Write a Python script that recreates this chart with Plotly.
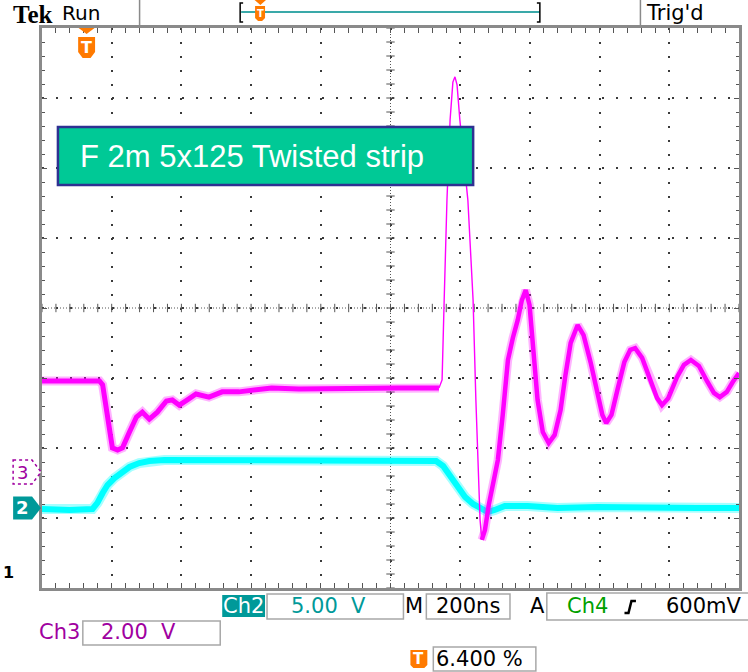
import plotly.graph_objects as go

# ---------------- data ----------------
TIME_PER_DIV = 200.0      # ns / div  (M 200ns)
TRIG_FRAC = 0.064         # trigger position 6.400 %
CH2_SCALE = 5.0           # V / div
CH3_SCALE = 2.0           # V / div
CH2_POS = -2.857          # ground marker position, div
CH3_POS = -2.343

# Ch2 (cyan), time in ns, volts
CH2_T = [-128, -49, 17, 31, 46, 60, 80, 100, 123, 151, 180, 223, 323, 609, 894,
         1003, 1023, 1046, 1066, 1086, 1109, 1131, 1151, 1171, 1200, 1266, 1351,
         1466, 1609, 1751, 1872]
CH2_V = [-0.07, -0.14, -0.07, 0.36, 1.07, 1.64, 2.14, 2.57, 2.93, 3.21, 3.36,
         3.43, 3.43, 3.43, 3.43, 3.36, 3.00, 2.14, 1.50, 0.79, 0.29, -0.07, -0.29,
         -0.14, 0.14, 0.14, 0.0, 0.07, 0.0, 0.0, 0.0]

# Ch3 (magenta), time in ns, volts
CH3_T = [-128, 37, 46, 60, 74, 89, 103, 123, 143, 160, 180, 203, 229, 246, 266,
         289, 314, 351, 389, 437, 480, 531, 609, 751, 894, 1011,
         1020, 1026, 1034, 1043, 1051, 1057, 1063, 1071, 1083, 1094, 1103, 1109,
         1117, 1123, 1129, 1134,
         1143, 1154, 1169, 1180, 1194, 1209, 1223, 1237, 1249, 1260, 1271, 1283,
         1294, 1309, 1326, 1343, 1360, 1374, 1389, 1409, 1426, 1446, 1466, 1480,
         1491, 1506, 1523, 1543, 1560, 1574, 1594, 1617, 1637, 1651, 1669, 1694,
         1714, 1734, 1757, 1780, 1800, 1817, 1837, 1854, 1872]
CH3_V = [2.60, 2.60, 2.49, 1.49, 0.69, 0.63, 0.69, 1.14, 1.57, 1.71, 1.51, 1.71,
         2.03, 2.06, 1.91, 2.06, 2.23, 2.14, 2.29, 2.29, 2.34, 2.40, 2.37, 2.40,
         2.40, 2.40,
         2.63, 4.91, 7.77, 10.06, 11.14, 11.29, 11.06, 10.06, 8.91, 7.77, 6.06,
         4.91, 2.06, 0.34, -1.37, -1.94,
         -1.66, -0.94, -0.23, 0.34, 1.63, 3.20, 3.83, 4.34, 4.91, 5.20, 4.77, 3.49,
         2.06, 1.14, 0.83, 1.06, 1.77, 2.77, 3.69, 4.20, 3.91, 3.14, 2.20, 1.63,
         1.40, 1.63, 2.34, 3.14, 3.49, 3.54, 3.26, 2.69, 2.11, 1.91, 2.11, 2.71,
         3.06, 3.20, 3.03, 2.60, 2.26, 2.14, 2.29, 2.57, 2.83]
CH3_FAST = (25, 41)   # index span of the fast (thin, faint) part of the trace

LABEL = "F 2m 5x125 Twisted strip"
CH2_TXT, CH3_TXT, TB_TXT = "5.00 V", "2.00 V", "200ns"
TRIG_SRC, TRIG_LVL, TRIG_POS_TXT = "Ch4", "600mV", "6.400 %"

# ---------------- geometry helpers ----------------
W, H = 748, 672
L, R, T, B = 42, 742, 28, 588
NDIV_X, NDIV_Y = 10, 8

def fx(x):
    return (x - L) / (R - L)

def fy(y):
    return (B - y) / (B - T)

x0 = -TRIG_FRAC * NDIV_X * TIME_PER_DIV
x1 = x0 + NDIV_X * TIME_PER_DIV
y2r = [(-NDIV_Y / 2 - CH2_POS) * CH2_SCALE, (NDIV_Y / 2 - CH2_POS) * CH2_SCALE]
y3r = [(-NDIV_Y / 2 - CH3_POS) * CH3_SCALE, (NDIV_Y / 2 - CH3_POS) * CH3_SCALE]

MAG = "#FF00FF"
CYAN = "#00FFFF"
TEAL = "#009999"
PURP = "#A000A0"
ORANGE = "#FF7A00"
GRIDC = "#3a3a3a"
FRAME = "#8a8a8a"
SCOPE_FONT = "DejaVu Sans"

fig = go.Figure()

# centre graticule tick marks
xs = [x0 + i * TIME_PER_DIV / 5 for i in range(NDIV_X * 5 + 1)]
yc = (y2r[0] + y2r[1]) / 2
fig.add_trace(go.Scatter(x=xs, y=[yc] * len(xs), mode="markers", yaxis="y",
                         marker=dict(symbol="line-ns", size=6,
                                     line=dict(width=1, color="#555")),
                         hoverinfo="skip"))
ys = [y2r[0] + i * CH2_SCALE / 5 for i in range(NDIV_Y * 5 + 1)]
xc = (x0 + x1) / 2
fig.add_trace(go.Scatter(x=[xc] * len(ys), y=ys, mode="markers", yaxis="y",
                         marker=dict(symbol="line-ew", size=6,
                                     line=dict(width=1, color="#555")),
                         hoverinfo="skip"))

# Ch2 trace (fuzz halo + core)
fig.add_trace(go.Scatter(x=CH2_T, y=CH2_V, mode="lines", yaxis="y",
                         line=dict(color="rgba(0,255,255,0.35)", width=10),
                         hoverinfo="skip"))
fig.add_trace(go.Scatter(x=CH2_T, y=CH2_V, mode="lines", yaxis="y",
                         line=dict(color=CYAN, width=6), hoverinfo="skip"))

# Ch3 trace split into slow (thick, noisy) and fast (thin) segments
a, b = CH3_FAST
segs = [(0, a + 1, 5), (a, b + 1, 1.4), (b, len(CH3_T), 4.5)]
for s, e, w in segs:
    if w > 2:
        fig.add_trace(go.Scatter(x=CH3_T[s:e], y=CH3_V[s:e], mode="lines",
                                 yaxis="y2",
                                 line=dict(color="rgba(255,0,255,0.3)", width=w + 4),
                                 hoverinfo="skip"))
    fig.add_trace(go.Scatter(x=CH3_T[s:e], y=CH3_V[s:e], mode="lines",
                             yaxis="y2",
                             line=dict(color=MAG, width=w), hoverinfo="skip"))

shapes = []
ann = []


def rect(xa, ya, xb, yb, **kw):
    d = dict(type="rect", xref="paper", yref="paper",
             x0=fx(xa), x1=fx(xb), y0=fy(yb), y1=fy(ya))
    d.update(kw)
    shapes.append(d)


def path(pts, close=True, **kw):
    s = "M " + " L ".join(f"{fx(px):.5f},{fy(py):.5f}" for px, py in pts)
    if close:
        s += " Z"
    d = dict(type="path", xref="paper", yref="paper", path=s)
    d.update(kw)
    shapes.append(d)


def line(xa, ya, xb, yb, **kw):
    d = dict(type="line", xref="paper", yref="paper",
             x0=fx(xa), x1=fx(xb), y0=fy(ya), y1=fy(yb))
    d.update(kw)
    shapes.append(d)


def text(x, y, s, size=20, color="black", family=SCOPE_FONT, xanchor="left", **kw):
    d = dict(x=fx(x), y=fy(y), xref="paper", yref="paper", text=s,
             showarrow=False, xanchor=xanchor, yanchor="middle",
             font=dict(size=size, color=color, family=family))
    d.update(kw)
    ann.append(d)


# centre cross lines
cy = (T + B) / 2
cx = (L + R) / 2
line(L, cy, R, cy, line=dict(color="#555", width=1, dash="1px,2px"), layer="below")
line(cx, T, cx, B, line=dict(color="#555", width=1, dash="1px,2px"), layer="below")

# ---- top status bar ----
text(12, 14, "<b>Tek</b>", size=25, family="Liberation Serif", borderpad=0)
text(60, 13, "Run", size=20)
line(140, 0, 140, 25, line=dict(color=FRAME, width=1.5))
line(643, 0, 643, 25, line=dict(color=FRAME, width=1.5))
text(647, 13, "Trig'd", size=21)
line(242, 12, 542, 12, line=dict(color="#3aa9a9", width=2))
path([(244, 3), (241, 3), (241, 22), (244, 22)], close=False,
     line=dict(color="black", width=1.5))
path([(539, 3), (542, 3), (542, 22), (539, 22)], close=False,
     line=dict(color="black", width=1.5))
# small trigger-position marker in record bar
path([(255.5, 0), (267, 0), (261.3, 5)], fillcolor=ORANGE, line=dict(width=0))
path([(256, 6), (266, 6), (266, 18), (263, 21), (259, 21), (256, 18)],
     fillcolor=ORANGE, line=dict(width=0))
text(261, 13.5, "<b>T</b>", size=10, color="white", xanchor="center")

# trigger marker at top of graticule
tx = L + (0 - x0) / (x1 - x0) * (R - L)
path([(tx - 8, 28), (tx + 8, 28), (tx, 34)], fillcolor=ORANGE, line=dict(width=0))
path([(tx - 8.5, 37), (tx + 8.5, 37), (tx + 8.5, 52), (tx + 4, 58),
      (tx - 4, 58), (tx - 8.5, 52)], fillcolor=ORANGE, line=dict(width=0))
text(tx, 47.5, "<b>T</b>", size=16, color="white", xanchor="center")

# channel ground markers
g3 = (T + B) / 2 - CH3_POS * (B - T) / NDIV_Y
g2 = (T + B) / 2 - CH2_POS * (B - T) / NDIV_Y
path([(13, g3 - 12), (32, g3 - 12), (41, g3), (32, g3 + 12), (13, g3 + 12)],
     fillcolor="white", line=dict(color=PURP, width=1.5, dash="dot"))
text(22, g3, "3", size=18, color=PURP, xanchor="center")
path([(13, g2 - 11.5), (32, g2 - 11.5), (41, g2), (32, g2 + 11.5), (13, g2 + 11.5)],
     fillcolor=TEAL, line=dict(width=0))
text(22, g2, "<b>2</b>", size=18, color="white", xanchor="center")
text(1, 572, "<b>1</b>", size=16)

# label box
rect(58, 127, 475, 185, fillcolor="#00C996",
     line=dict(color="#2E3192", width=2.5), layer="above")
text(78, 157, LABEL, size=31, color="white", family="Liberation Sans")

# ---- bottom readouts ----
BOXL = dict(color="#a8a8a8", width=1.5)
rect(223, 595, 266, 617, fillcolor=TEAL, line=dict(width=0))
text(244.5, 606, "Ch2", size=21, color="white", xanchor="center")
rect(268, 594, 405, 619, line=BOXL)
text(290, 606, CH2_TXT.replace(" ", "&nbsp;&nbsp;"), size=21, color=TEAL)
text(416, 606, "M", size=21, xanchor="center")
rect(428, 594, 512, 619, line=BOXL)
text(470, 606, TB_TXT, size=21, xanchor="center")
text(540, 606, "A", size=21, xanchor="center")
rect(549, 593, 752, 620, line=BOXL)
text(567, 606, TRIG_SRC, size=21, color="#00A000")
path([(627, 613), (631, 613), (634, 601), (638.5, 601)], close=False,
     line=dict(color="black", width=2.5))
text(747, 606, TRIG_LVL, size=21, xanchor="right")

text(37, 632, "Ch3", size=21, color=PURP)
rect(83, 621, 221, 645, line=BOXL)
text(99, 632, CH3_TXT.replace(" ", "&nbsp;&nbsp;"), size=21, color=PURP)

path([(412, 650), (429, 650), (429, 665), (426, 668), (415, 668), (412, 665)],
     fillcolor=ORANGE, line=dict(width=0))
text(420.5, 659, "<b>T</b>", size=15, color="white", xanchor="center")
rect(435, 647, 538, 671, line=BOXL)
text(436, 659, TRIG_POS_TXT, size=21)

ax_common = dict(showticklabels=False, zeroline=False, showline=True,
                 linecolor=FRAME, linewidth=3, mirror="allticks",
                 ticks="inside", ticklen=5, tickcolor="#555", tickwidth=1,
                 showgrid=True, gridcolor=GRIDC, gridwidth=2, griddash="2px,12px",
                 fixedrange=True)

fig.update_layout(
    width=W, height=H,
    margin=dict(l=L, r=W - R, t=T, b=H - B, pad=0),
    paper_bgcolor="white", plot_bgcolor="white",
    showlegend=False,
    xaxis=dict(range=[x0, x1], tick0=x0, dtick=TIME_PER_DIV,
               minor=dict(tick0=x0, dtick=TIME_PER_DIV / 5, ticks="inside",
                          ticklen=3, tickcolor="#555", showgrid=False),
               **ax_common),
    yaxis=dict(range=y2r, tick0=y2r[0], dtick=CH2_SCALE,
               minor=dict(tick0=y2r[0], dtick=CH2_SCALE / 5, ticks="inside",
                          ticklen=3, tickcolor="#555", showgrid=False),
               **ax_common),
    yaxis2=dict(range=y3r, overlaying="y", visible=False, fixedrange=True),
    shapes=shapes,
    annotations=ann,
)

fig.write_html("out.html", config={"displayModeBar": False},
               post_script="document.body.style.margin='0';"
                           "document.body.style.overflow='hidden';")
